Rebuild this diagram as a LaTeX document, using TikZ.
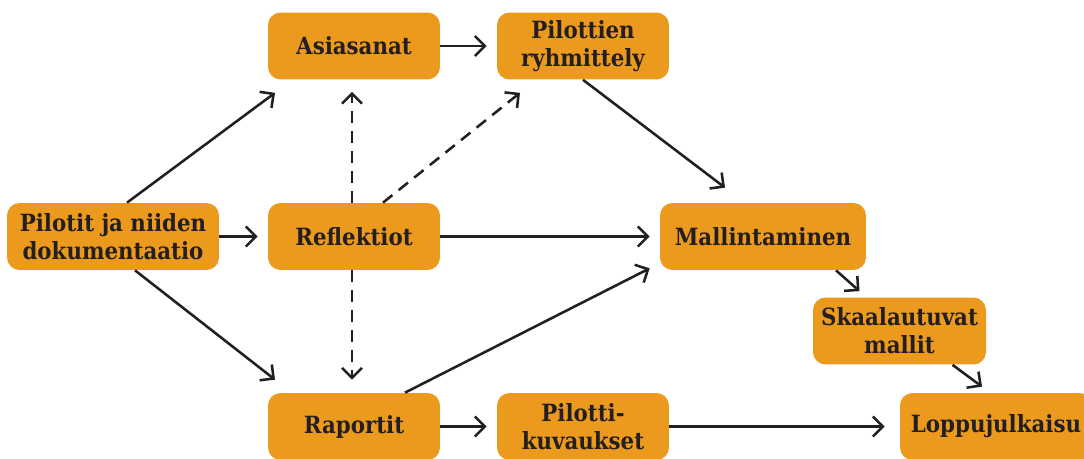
\documentclass[tikz,border=0pt]{standalone}
\usepackage{fontspec}
\setmainfont{DejaVu Serif Condensed}
\usetikzlibrary{arrows.meta}

\definecolor{boxorange}{HTML}{EC9A1E}
\definecolor{inkdark}{HTML}{231F20}

\begin{document}
\begin{tikzpicture}[x=0.02cm, y=-0.02cm,
    >={Straight Barb[length=2mm,width=4mm]},
    box/.style={fill=boxorange, rounded corners=0.25cm, align=center,
        minimum width=3.44cm, minimum height=1.34cm, inner sep=0pt,
        text=inkdark, font=\bfseries\fontsize{13.5}{15.8}\selectfont},
    edge/.style={->, draw=inkdark, line width=1.45pt},
    dashedge/.style={edge, dash pattern=on 2.4mm off 1.6mm}]
                \clip (0,0) rectangle (1084,459);
                \useasboundingbox (0,0) rectangle (1084,459);

                % Nodes
                \node[box, minimum width=4.24cm] (pilotit) at (113,236.5) {Pilotit ja niiden\\dokumentaatio};
                \node[box] (reflektiot) at (354,236.5) {Reflektiot};
                \node[box] (asiasanat) at (354,46) {Asiasanat};
                \node[box] (ryhmittely) at (583,46) {Pilottien\\ryhmittely};
                \node[box] (raportit) at (354,426.5) {Raportit};
                \node[box] (kuvaukset) at (583,426.5) {Pilotti-\\kuvaukset};
                \node[box, minimum width=4.12cm] (mallintaminen) at (763,236.5) {Mallintaminen};
                \node[box, minimum width=3.46cm] (skaalautuvat) at (899.5,331) {Skaalautuvat\\mallit};
                \node[box, minimum width=3.84cm] (loppu) at (996,426.5) {Loppujulkaisu};

                % Edges
                \draw[edge] ([shift={(14,0)}]pilotit.north) -- ([shift={(-79,13)}]asiasanat.south);
                \draw[edge] ([shift={(22,0)}]pilotit.south) -- ([shift={(-79,-13)}]raportit.north);
                \draw[edge, shorten >=2mm] (pilotit.east) -- (reflektiot.west);
                \draw[edge, shorten >=2mm] (asiasanat.east) -- (ryhmittely.west);
                \draw[edge, shorten >=2mm] (reflektiot.east) -- (mallintaminen.west);
                \draw[edge, shorten >=2mm] (raportit.east) -- (kuvaukset.west);
                \draw[edge, shorten >=3mm] (kuvaukset.east) -- (loppu.west);
                \draw[edge] (ryhmittely.south) -- ([shift={(-38,-15)}]mallintaminen.north);
                \draw[edge] ([shift={(51,0)}]raportit.north) -- ([shift={(-10,-2)}]mallintaminen.south west);
                \draw[edge] ([shift={(73,0)}]mallintaminen.south) -- ([shift={(-40,-6)}]skaalautuvat.north);
                \draw[edge] ([shift={(53,0)}]skaalautuvat.south) -- ([shift={(-14,-6)}]loppu.north);

                % Dashed edges
                \draw[dashedge] ([shift={(-2,0)}]reflektiot.north) -- ([shift={(-2,12)}]asiasanat.south);
                \draw[dashedge] ([shift={(-2,0)}]reflektiot.south) -- ([shift={(-2,-13)}]raportit.north);
                \draw[dashedge] ([shift={(29,0)}]reflektiot.north) -- ([shift={(-63,13)}]ryhmittely.south);
\end{tikzpicture}
\end{document}
